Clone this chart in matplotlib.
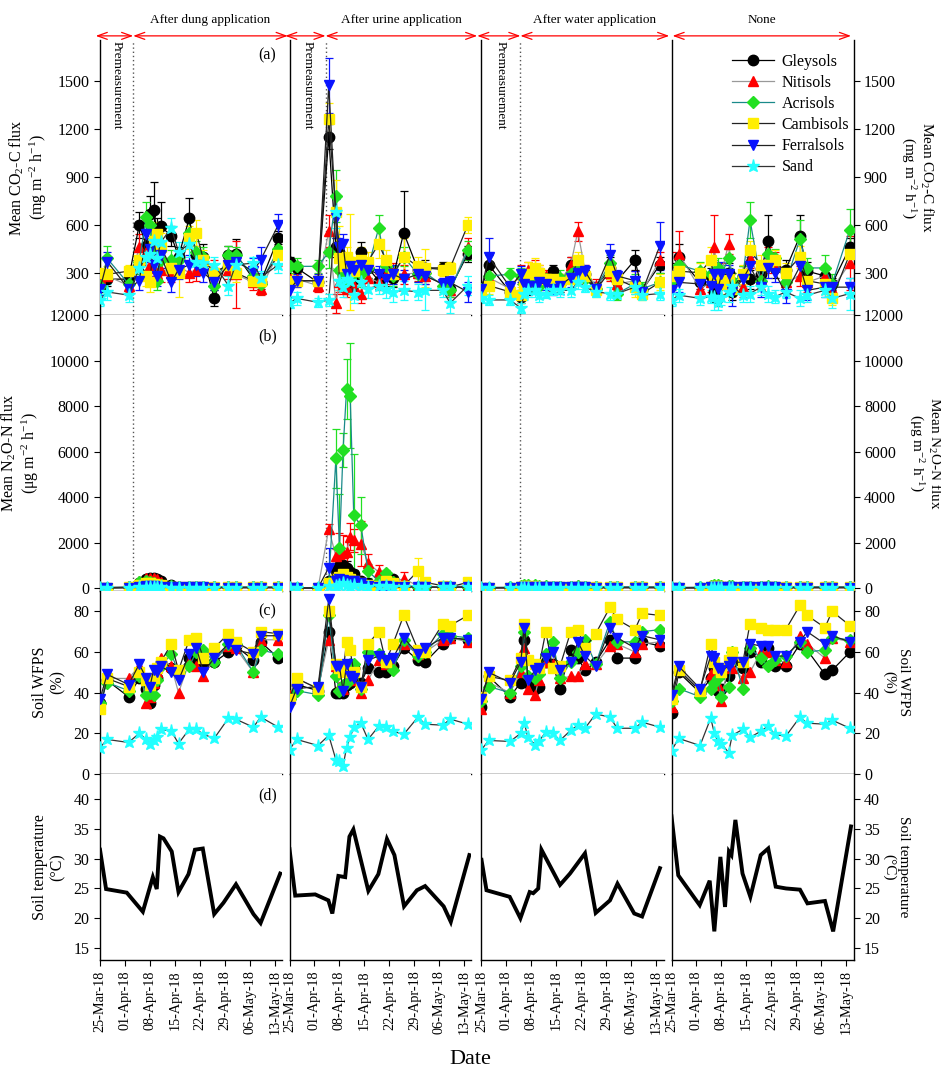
import numpy as np
import pandas as pd
import matplotlib
matplotlib.use('Agg')
import matplotlib.pyplot as plt
from matplotlib.lines import Line2D

plt.rcParams['font.family'] = ['Liberation Serif', 'DejaVu Serif']
plt.rcParams['mathtext.fontset'] = 'custom'
plt.rcParams['mathtext.rm'] = 'Liberation Serif'
plt.rcParams['mathtext.it'] = 'Liberation Serif:italic'

# ---------------- data ----------------
soils = ['Gleysols', 'Nitisols', 'Acrisols', 'Cambisols', 'Ferralsols', 'Sand']
treatments = ['After dung application', 'After urine application',
              'After water application', 'None']
start_date = '2018-03-25'

# sampling days, counted from 25-Mar-18
days_dung = [0, 2, 8, 11, 13, 14, 15, 16, 17, 20, 22, 25, 27, 29, 32, 36, 38, 43, 45, 50]
days_urine = [0, 2, 8, 11, 13, 14, 15, 16, 17, 18, 20, 22, 25, 27, 29, 32, 36, 38, 43, 45, 50]
days_water = [0, 2, 8, 11, 12, 13, 15, 16, 18, 20, 22, 25, 27, 29, 32, 36, 38, 43, 45, 50]
days_none = [0, 2, 8, 11, 12, 13, 14, 16, 17, 20, 22, 25, 27, 29, 32, 36, 38, 43, 45, 50]

# end of premeasurement period (days)
premeas_end = [9.3, 10.1, 10.9, None]

# CO2-C flux (mg m-2 h-1), rows follow soils
co2_dung = [
    [210, 260, 260, 600, 470, 670, 690, 560, 590, 530, 400, 640, 410, 400, 140, 410, 420, 260, 240, 520],
    [270, 280, 220, 460, 430, 350, 330, 290, 320, 300, 340, 300, 320, 350, 330, 320, 290, 240, 200, 420],
    [220, 390, 230, 370, 650, 600, 470, 250, 380, 380, 380, 550, 430, 400, 220, 410, 410, 280, 230, 450],
    [300, 290, 310, 380, 280, 240, 500, 540, 460, 330, 300, 520, 550, 380, 300, 350, 300, 250, 250, 410],
    [200, 370, 200, 250, 540, 450, 350, 280, 410, 240, 320, 350, 350, 300, 240, 350, 370, 310, 380, 600],
    [130, 180, 160, 330, 400, 420, 500, 390, 490, 580, 430, 480, 370, 360, 350, 220, 350, 360, 270, 350],
]
co2_err_dung = [
    [30, 40, 40, 80, 120, 110, 180, 80, 150, 60, 60, 130, 60, 80, 50, 60, 90, 40, 40, 40],
    [40, 40, 40, 80, 80, 70, 60, 50, 80, 60, 60, 60, 70, 50, 50, 60, 210, 50, 40, 80],
    [50, 80, 40, 80, 90, 80, 70, 60, 80, 60, 60, 80, 70, 60, 50, 60, 50, 40, 60, 60],
    [90, 50, 40, 60, 60, 60, 80, 80, 90, 60, 150, 70, 80, 60, 50, 60, 60, 40, 40, 60],
    [40, 60, 40, 60, 80, 80, 70, 60, 80, 60, 60, 60, 70, 60, 50, 60, 60, 80, 80, 70],
    [40, 50, 40, 60, 80, 80, 100, 80, 120, 60, 60, 80, 70, 60, 50, 60, 60, 40, 40, 50],
]
co2_urine = [
    [370, 330, 240, 1150, 460, 430, 280, 230, 250, 260, 430, 330, 250, 280, 270, 550, 320, 330, 330, 200, 420],
    [260, 260, 220, 560, 110, 240, 230, 200, 250, 220, 170, 270, 240, 290, 300, 290, 300, 280, 230, 190, 460],
    [340, 340, 340, 430, 780, 320, 290, 250, 270, 300, 290, 330, 580, 340, 280, 400, 290, 300, 220, 190, 440],
    [250, 250, 250, 1260, 680, 390, 340, 400, 370, 310, 380, 370, 480, 380, 290, 400, 340, 330, 320, 330, 600],
    [190, 250, 250, 1470, 640, 460, 480, 290, 340, 320, 350, 320, 290, 260, 290, 260, 290, 280, 230, 240, 180],
    [110, 140, 115, 130, 680, 250, 210, 260, 250, 160, 240, 200, 220, 200, 180, 190, 180, 190, 190, 110, 220],
]
co2_err_urine = [
    [30, 40, 40, 80, 60, 60, 50, 50, 60, 50, 60, 60, 50, 60, 60, 260, 50, 50, 40, 40, 50],
    [30, 40, 40, 100, 60, 60, 60, 50, 60, 50, 60, 60, 50, 60, 60, 60, 50, 50, 40, 40, 60],
    [40, 50, 40, 100, 160, 60, 60, 50, 60, 50, 80, 60, 80, 60, 60, 60, 50, 50, 40, 40, 60],
    [40, 40, 40, 100, 200, 200, 70, 60, 300, 60, 80, 60, 90, 60, 60, 120, 60, 120, 40, 40, 50],
    [40, 40, 40, 170, 120, 60, 60, 60, 60, 50, 60, 60, 50, 60, 60, 60, 50, 50, 40, 40, 60],
    [30, 40, 30, 40, 100, 60, 60, 50, 60, 50, 60, 60, 50, 60, 60, 60, 50, 120, 40, 60, 60],
]
co2_water = [
    [200, 350, 180, 150, 240, 210, 250, 280, 260, 310, 230, 350, 280, 290, 200, 330, 250, 380, 190, 350],
    [200, 270, 200, 290, 260, 320, 330, 300, 280, 260, 240, 350, 560, 310, 220, 300, 230, 250, 180, 380],
    [200, 280, 290, 280, 230, 250, 230, 220, 260, 240, 270, 290, 330, 260, 200, 360, 170, 230, 200, 240],
    [180, 220, 180, 160, 220, 290, 330, 300, 260, 260, 240, 260, 380, 280, 190, 310, 260, 210, 170, 240],
    [200, 400, 210, 290, 230, 220, 220, 240, 230, 200, 220, 270, 300, 310, 200, 410, 280, 250, 180, 470],
    [140, 130, 130, 80, 170, 190, 190, 160, 170, 190, 190, 190, 240, 210, 180, 170, 170, 210, 160, 170],
]
co2_err_water = [
    [40, 60, 40, 40, 50, 50, 40, 50, 40, 40, 50, 50, 50, 40, 40, 70, 40, 60, 40, 50],
    [40, 50, 40, 60, 50, 50, 50, 50, 40, 40, 50, 50, 60, 40, 40, 50, 40, 60, 40, 50],
    [40, 50, 40, 50, 50, 50, 50, 50, 40, 40, 50, 50, 50, 40, 40, 50, 40, 60, 40, 60],
    [40, 50, 40, 50, 60, 80, 60, 50, 40, 40, 50, 60, 50, 40, 40, 50, 40, 60, 40, 50],
    [40, 120, 40, 50, 50, 50, 50, 50, 40, 40, 50, 60, 50, 40, 40, 70, 40, 60, 40, 150],
    [30, 30, 30, 30, 40, 40, 40, 40, 30, 30, 40, 40, 40, 30, 30, 40, 30, 40, 30, 40],
]
co2_none = [
    [300, 400, 240, 280, 180, 140, 290, 300, 180, 280, 260, 290, 500, 330, 320, 530, 310, 280, 230, 460],
    [280, 420, 200, 240, 460, 270, 300, 480, 250, 210, 390, 260, 380, 370, 240, 280, 240, 280, 200, 360],
    [240, 350, 310, 290, 300, 330, 290, 390, 250, 280, 630, 250, 420, 390, 240, 510, 330, 330, 230, 570],
    [280, 310, 300, 380, 260, 280, 230, 260, 200, 290, 440, 350, 350, 380, 300, 400, 250, 230, 140, 420],
    [190, 240, 230, 220, 290, 200, 290, 290, 180, 260, 340, 210, 330, 300, 170, 340, 190, 210, 210, 210],
    [130, 160, 140, 150, 150, 120, 150, 180, 220, 160, 170, 210, 170, 150, 180, 140, 160, 190, 140, 170],
]
co2_err_none = [
    [60, 80, 40, 50, 60, 50, 60, 60, 50, 60, 60, 60, 160, 60, 60, 130, 60, 60, 40, 60],
    [150, 140, 60, 60, 200, 60, 60, 60, 50, 60, 60, 60, 80, 60, 60, 60, 60, 60, 40, 170],
    [50, 60, 60, 60, 80, 60, 60, 60, 50, 60, 110, 60, 80, 60, 60, 120, 60, 80, 60, 130],
    [50, 60, 60, 80, 60, 60, 60, 60, 50, 60, 60, 60, 80, 60, 60, 70, 60, 60, 40, 60],
    [50, 60, 50, 60, 80, 60, 80, 60, 90, 60, 60, 60, 60, 60, 60, 60, 60, 60, 40, 60],
    [40, 40, 40, 40, 80, 50, 50, 60, 50, 40, 50, 50, 50, 40, 40, 50, 40, 40, 60, 100],
]

# N2O-N flux (ug m-2 h-1)
n2o_dung = [
    [20, 20, 30, 200, 380, 420, 430, 400, 330, 120, 60, 50, 40, 40, 30, 30, 30, 30, 30, 30],
    [20, 20, 30, 300, 450, 450, 420, 380, 280, 100, 60, 50, 50, 50, 40, 40, 40, 40, 40, 40],
    [20, 20, 30, 250, 300, 250, 200, 150, 120, 80, 50, 40, 40, 40, 30, 30, 30, 30, 30, 30],
    [20, 20, 30, 150, 200, 200, 180, 150, 120, 60, 40, 40, 40, 40, 30, 30, 30, 30, 30, 30],
    [10, 10, 20, 60, 80, 80, 70, 60, 50, 40, 30, 30, 30, 30, 20, 20, 20, 20, 20, 20],
    [10, 10, 10, 30, 40, 40, 40, 40, 30, 20, 20, 20, 20, 20, 10, 10, 10, 10, 10, 10],
]
n2o_err_dung = [
    [10, 10, 10, 60, 80, 90, 90, 80, 60, 40, 20, 20, 20, 20, 10, 10, 10, 10, 10, 10],
    [10, 10, 10, 80, 100, 100, 90, 80, 60, 40, 20, 20, 20, 20, 10, 10, 10, 10, 10, 10],
    [10, 10, 10, 60, 60, 60, 50, 40, 30, 30, 20, 20, 20, 20, 10, 10, 10, 10, 10, 10],
    [10, 10, 10, 40, 50, 50, 40, 30, 30, 20, 20, 20, 20, 20, 10, 10, 10, 10, 10, 10],
    [5, 5, 5, 20, 20, 20, 20, 20, 10, 10, 10, 10, 10, 10, 5, 5, 5, 5, 5, 5],
    [5, 5, 5, 10, 10, 10, 10, 10, 10, 10, 5, 5, 5, 5, 5, 5, 5, 5, 5, 5],
]
n2o_urine = [
    [0, 0, 0, 300, 800, 950, 1000, 900, 700, 600, 300, 200, 100, 80, 400, 100, 50, 50, 30, 30, 60],
    [0, 0, 0, 2600, 1400, 1500, 1550, 1600, 2250, 2100, 1950, 1100, 700, 500, 300, 400, 100, 80, 50, 50, 100],
    [0, 0, 0, 200, 5700, 1750, 6050, 8750, 8450, 3200, 2750, 750, 300, 650, 250, 100, 50, 50, 30, 30, 50],
    [0, 0, 0, 200, 400, 500, 600, 500, 400, 300, 200, 150, 100, 300, 200, 100, 750, 250, 100, 50, 250],
    [0, 0, 0, 900, 300, 400, 350, 200, 300, 300, 200, 100, 50, 100, 50, 50, 50, 50, 30, 30, 50],
    [0, 0, 0, 100, 100, 150, 200, 150, 100, 150, 100, 50, 80, 80, 50, 50, 40, 40, 30, 30, 40],
]
n2o_err_urine = [
    [0, 0, 0, 100, 300, 300, 300, 300, 200, 200, 100, 100, 50, 50, 100, 50, 30, 30, 20, 20, 30],
    [0, 0, 0, 200, 300, 900, 800, 700, 600, 500, 1000, 400, 300, 200, 100, 300, 50, 50, 30, 30, 50],
    [0, 0, 0, 100, 1300, 2400, 750, 1300, 2300, 2700, 1250, 300, 200, 150, 100, 50, 30, 30, 20, 20, 30],
    [0, 0, 0, 100, 200, 200, 200, 200, 100, 100, 100, 100, 50, 100, 100, 50, 550, 100, 50, 30, 100],
    [0, 0, 0, 880, 200, 200, 200, 100, 100, 100, 100, 50, 30, 50, 30, 30, 30, 30, 20, 20, 30],
    [0, 0, 0, 50, 50, 50, 50, 50, 50, 50, 50, 30, 30, 30, 30, 30, 20, 20, 20, 20, 20],
]
n2o_water = [
    [20, 20, 20, 50, 60, 60, 50, 50, 40, 40, 40, 30, 40, 40, 30, 30, 30, 30, 30, 30],
    [20, 20, 30, 80, 100, 120, 100, 80, 60, 60, 80, 100, 150, 60, 40, 40, 40, 40, 40, 40],
    [20, 20, 30, 100, 150, 150, 120, 100, 80, 60, 60, 60, 80, 60, 40, 40, 40, 40, 40, 40],
    [20, 20, 20, 60, 80, 80, 70, 60, 50, 50, 50, 40, 50, 40, 30, 30, 30, 30, 30, 30],
    [10, 10, 10, 30, 40, 40, 40, 30, 30, 30, 30, 30, 30, 30, 20, 20, 20, 20, 20, 20],
    [10, 10, 10, 20, 20, 20, 20, 20, 20, 20, 20, 20, 20, 20, 10, 10, 10, 10, 10, 10],
]
n2o_none = [
    [20, 20, 20, 40, 50, 50, 50, 40, 40, 40, 30, 30, 40, 30, 30, 30, 30, 30, 30, 30],
    [20, 20, 30, 70, 90, 100, 90, 70, 60, 60, 60, 80, 90, 60, 40, 40, 40, 40, 40, 40],
    [20, 20, 30, 90, 120, 120, 100, 90, 70, 60, 60, 60, 70, 60, 40, 40, 40, 40, 40, 40],
    [20, 20, 20, 50, 70, 70, 60, 50, 50, 40, 40, 40, 50, 40, 30, 30, 30, 30, 30, 30],
    [10, 10, 10, 30, 30, 30, 30, 30, 30, 30, 30, 30, 30, 30, 20, 20, 20, 20, 20, 20],
    [10, 10, 10, 20, 20, 20, 20, 20, 20, 20, 20, 20, 20, 20, 10, 10, 10, 10, 10, 10],
]

# Soil WFPS (%)
wfps_dung = [
    [35, 46, 38, 47, 42, 35, 44, 47, 55, 52, 50, 57, 55, 53, 55, 60, 63, 56, 65, 57],
    [34, 47, 47, 53, 35, 38, 45, 50, 57, 53, 40, 55, 53, 48, 57, 63, 62, 50, 66, 66],
    [35, 45, 41, 48, 39, 40, 39, 46, 53, 59, 50, 53, 60, 61, 55, 64, 64, 50, 61, 59],
    [32, 47, 43, 50, 46, 44, 47, 52, 55, 64, 51, 66, 67, 57, 62, 69, 65, 60, 70, 69],
    [37, 49, 44, 54, 47, 43, 51, 50, 53, 50, 46, 59, 62, 50, 57, 64, 61, 59, 68, 68],
    [13, 17, 15.5, 20, 17, 15, 16.5, 18, 22, 21, 15, 22, 22, 19.5, 17.5, 27.5, 27, 23, 28, 23],
]
wfps_urine = [
    [38, 44, 41, 70, 40, 40, 40, 44, 45, 52, 45, 52, 50, 50, 53, 62, 56, 55, 64, 67, 66],
    [39, 47, 42, 66, 53, 43, 42, 46, 50, 46, 40, 46, 56, 54, 53, 64, 59, 60, 66, 67, 65],
    [37, 41, 39, 78, 48, 41, 44, 45, 54, 54, 42, 60, 59, 55, 51, 66, 58, 60, 69, 68, 67],
    [37, 47, 42, 80, 54, 52, 50, 65, 61, 50, 43, 64, 70, 55, 64, 78, 61, 60, 74, 73, 78],
    [33, 42, 43, 86, 53, 53, 41, 54, 48, 47, 43, 56, 58, 56, 57, 67, 59, 62, 67, 67, 66],
    [12, 17, 14, 19, 7, 6.5, 4, 13, 18, 23, 25, 17, 23.5, 23, 21, 19.5, 28, 24.5, 24, 27, 24.5],
]
wfps_water = [
    [33, 48, 38, 45, 66, 45, 42, 43, 55, 54, 42, 61, 57, 51, 55, 66, 57, 57, 65, 63],
    [32, 45, 40, 50, 62, 42, 39, 46, 55, 54, 47, 48, 48, 54, 54, 63, 64, 60, 64, 65],
    [36, 43, 40, 53, 70, 48, 47, 49, 59, 65, 47, 55, 60, 66, 54, 75, 65, 65, 70, 71],
    [38, 48, 46, 57, 74, 56, 54, 52, 70, 52, 53, 70, 71, 62, 69, 82, 76, 71, 79, 78],
    [37, 50, 45, 55, 72, 46, 51, 52, 57, 60, 51, 55, 65, 58, 53, 72, 67, 62, 68, 66],
    [12, 16.5, 16, 20, 25, 18, 14.5, 16, 20.5, 20, 16.5, 21.5, 24, 22.5, 29.5, 28, 22.5, 22.5, 25.5, 23],
]
wfps_none = [
    [30, 50, 40, 47, 52, 41, 42, 48, 55, 52, 60, 55, 62, 53, 53, 64, 61, 49, 51, 60],
    [33, 52, 41, 49, 48, 44, 36, 55, 52, 47, 50, 60, 60, 56, 55, 68, 64, 57, 67, 65],
    [36, 42, 38, 42, 45, 47, 38, 43, 60, 42, 62, 57, 53, 56, 58, 65, 60, 61, 67, 66],
    [37, 51, 41, 64, 55, 52, 50, 56, 60, 55, 74, 72, 71, 71, 71, 83, 78, 72, 80, 73],
    [39, 53, 42, 58, 57, 52, 51, 53, 55, 55, 64, 63, 63, 58, 58, 65, 70, 64, 68, 65],
    [11.5, 17.5, 14, 27.5, 20, 16, 15, 10.5, 19, 22, 18, 21, 23.5, 19.5, 18.5, 28, 25, 24.5, 26.5, 22.5],
]

# Soil temperature (degC)
temp_days_dung = [0, 1.7, 7.5, 12, 14.8, 15.9, 16.8, 17.8, 20.1, 22, 24.8, 26.6, 28.8, 32, 34.6, 38.1, 43, 45, 50.5]
temp_dung = [31.5, 24.9, 24.3, 21.1, 26.9, 24.9, 33.7, 33.4, 31.2, 24.4, 27.4, 31.5, 31.7, 20.7, 22.6, 25.7, 20.7, 19.2, 27.5]
temp_days_urine = [0, 1.6, 4.4, 7.2, 10.9, 12, 13.7, 15.6, 16.8, 17.9, 22.1, 24.9, 27.3, 29.4, 32.1, 35.7, 38, 43.2, 45.2, 50.4]
temp_urine = [31.6, 23.8, 23.9, 24.0, 23.0, 20.8, 27.1, 26.9, 33.7, 34.9, 24.6, 27.4, 33.3, 30.6, 22.0, 24.7, 25.4, 22.0, 19.4, 30.6]
temp_days_water = [0, 1.4, 7.9, 10.9, 13.5, 14.5, 15.9, 16.8, 22, 24.8, 29, 32, 36, 38.1, 42.8, 45, 50]
temp_water = [29.8, 24.7, 23.6, 20.0, 24.4, 24.2, 25.0, 31.5, 25.6, 27.5, 30.9, 20.9, 23.0, 25.8, 20.8, 20.3, 28.4]
temp_days_none = [0, 1.9, 7.9, 10.7, 12, 13.7, 15, 16.1, 16.8, 17.9, 19.9, 22.1, 25, 27.1, 29.2, 32.1, 36, 38.1, 43, 45.3, 50.3]
temp_none = [37.1, 27.2, 22.2, 26.3, 17.8, 30.3, 21.9, 31.2, 30.6, 36.5, 27.5, 23.6, 30.6, 31.7, 25.3, 25.0, 24.8, 22.5, 22.9, 17.8, 35.4]

# ---------------- styles ----------------
mk_colors = ['black', 'red', '#22e022', '#ffee00', '#0a14ff', '#22ffff']
line_colors = ['black', '#999999', '#1a8a8a', '#222222', '#222222', '#333333']
markers = ['o', '^', 'D', 's', 'v', '*']
msizes = [7.5, 7, 6, 7, 7.5, 9.5]

columns = [
    dict(days=days_dung, co2=co2_dung, co2e=co2_err_dung, n2o=n2o_dung, n2oe=n2o_err_dung,
         wfps=wfps_dung, tdays=temp_days_dung, temp=temp_dung),
    dict(days=days_urine, co2=co2_urine, co2e=co2_err_urine, n2o=n2o_urine, n2oe=n2o_err_urine,
         wfps=wfps_urine, tdays=temp_days_urine, temp=temp_urine),
    dict(days=days_water, co2=co2_water, co2e=co2_err_water, n2o=n2o_water, n2oe=None,
         wfps=wfps_water, tdays=temp_days_water, temp=temp_water),
    dict(days=days_none, co2=co2_none, co2e=co2_err_none, n2o=n2o_none, n2oe=None,
         wfps=wfps_none, tdays=temp_days_none, temp=temp_none),
]

W, H = 941, 1086
fig = plt.figure(figsize=(W / 100, H / 100), dpi=100)

col_left = [100, 289.5, 481.5, 671.5]
col_w = 182
rows_px = [(40, 315), (315, 591), (591, 774), (774, 960)]
ylims = [(36, 1754), (-130, 12000), (0, 90), (13, 44.2)]
yticks = [np.arange(300, 1501, 300), np.arange(0, 12001, 2000), np.arange(0, 81, 20), np.arange(15, 41, 5)]
ylabels = ['Mean CO$_2$-C flux\n(mg m$^{-2}$ h$^{-1}$)',
           'Mean N$_2$O-N flux\n(\u03bcg m$^{-2}$ h$^{-1}$)',
           'Soil WFPS\n(%)',
           'Soil temperature\n(\u00b0C)']
panel_tags = ['(a)', '(b)', '(c)', '(d)']
tag_y = [0.945, 0.924, 0.89, 0.887]

xt = np.arange(0, 50, 7)
xt_labels = pd.date_range(start_date, periods=len(xt), freq='7D').strftime('%d-%b-%y')

for ci, col in enumerate(columns):
    for ri in range(4):
        top, bot = rows_px[ri]
        ax = fig.add_axes([col_left[ci] / W, 1 - bot / H, col_w / W, (bot - top) / H])
        ax.set_xlim(0, 51)
        ax.set_ylim(*ylims[ri])
        ax.set_yticks(yticks[ri])
        ax.spines['top'].set_visible(False)
        ax.spines['right'].set_visible(ci == 3)
        for s in ax.spines.values():
            s.set_linewidth(1.0)
        ax.tick_params(axis='y', direction='out', length=4, labelsize=11.5, width=0.8)

        if ci == 0:
            ax.set_ylabel(ylabels[ri], fontsize=11.5, labelpad=6, linespacing=1.1)
            ax.text(0.92, tag_y[ri], panel_tags[ri], transform=ax.transAxes,
                    ha='center', va='center', fontsize=11.5)
        elif ci == 3:
            ax.yaxis.tick_right()
            ax.yaxis.set_label_position('right')
            ax.set_ylabel(ylabels[ri], fontsize=11, rotation=270, va='bottom',
                          labelpad=2, linespacing=1.05)
        else:
            ax.tick_params(axis='y', left=False, labelleft=False)

        if ri < 3:
            ax.tick_params(axis='x', bottom=False, labelbottom=False)
        else:
            ax.set_xticks(xt)
            ax.set_xticklabels(xt_labels, rotation=90, fontsize=10.3)
            ax.tick_params(axis='x', direction='out', length=4, width=0.8)

        x = np.array(col['days'])
        if ri < 3:
            vals = [col['co2'], col['n2o'], col['wfps']][ri]
            errs = [col['co2e'], col['n2oe'], None][ri]
            for k in range(6):
                if errs is not None:
                    ax.errorbar(x, vals[k], yerr=errs[k], fmt='none', ecolor=mk_colors[k],
                                elinewidth=0.9, capsize=3, capthick=0.9, zorder=2)
                ax.plot(x, vals[k], color=line_colors[k], lw=0.9, marker=markers[k],
                        ms=msizes[k], mfc=mk_colors[k], mec=mk_colors[k], zorder=3)
        else:
            ax.plot(col['tdays'], col['temp'], color='black', lw=2.8, solid_joinstyle='miter')

        # premeasurement marker lines
        if ri < 2 and premeas_end[ci] is not None:
            ax.axvline(premeas_end[ci], color='#555555', ls=(0, (1, 2)), lw=1.0, zorder=1)

        if ri == 0:
            pe = premeas_end[ci]
            arrow_kw = dict(arrowstyle='<->,head_length=0.7,head_width=0.25', color='red', lw=0.9,
                            shrinkA=0, shrinkB=0)
            if pe is not None:
                segs = [(-1.2, pe), (pe, 52.6)]
            else:
                segs = [(0.3, 50.3)]
            for a0, a1 in segs:
                ax.annotate('', xy=(a1, 1.015), xytext=(a0, 1.015),
                            xycoords=('data', 'axes fraction'),
                            textcoords=('data', 'axes fraction'),
                            arrowprops=arrow_kw, annotation_clip=False)
            hx = (segs[-1][0] + segs[-1][1]) / 2
            ax.text(hx, 1.073, treatments[ci], transform=ax.get_xaxis_transform(),
                    ha='center', va='center', fontsize=9.5)
            if pe is not None:
                ax.text(pe / 2, 0.995, 'Premeasurement', transform=ax.get_xaxis_transform(),
                        rotation=270, ha='center', va='top', fontsize=9.5)
            if ci == 3:
                handles = [Line2D([0], [0], color=line_colors[k], lw=0.9, marker=markers[k],
                                  ms=msizes[k], mfc=mk_colors[k], mec=mk_colors[k])
                           for k in range(6)]
                ax.legend(handles, soils, loc='upper right', bbox_to_anchor=(1.03, 0.985),
                          frameon=False, fontsize=11.5, handlelength=2.6,
                          labelspacing=0.32, handletextpad=0.5, borderaxespad=0.2)

fig.text(0.5, 0.024, 'Date', ha='center', va='center', fontsize=16)

fig.savefig('out.png', dpi=100)
